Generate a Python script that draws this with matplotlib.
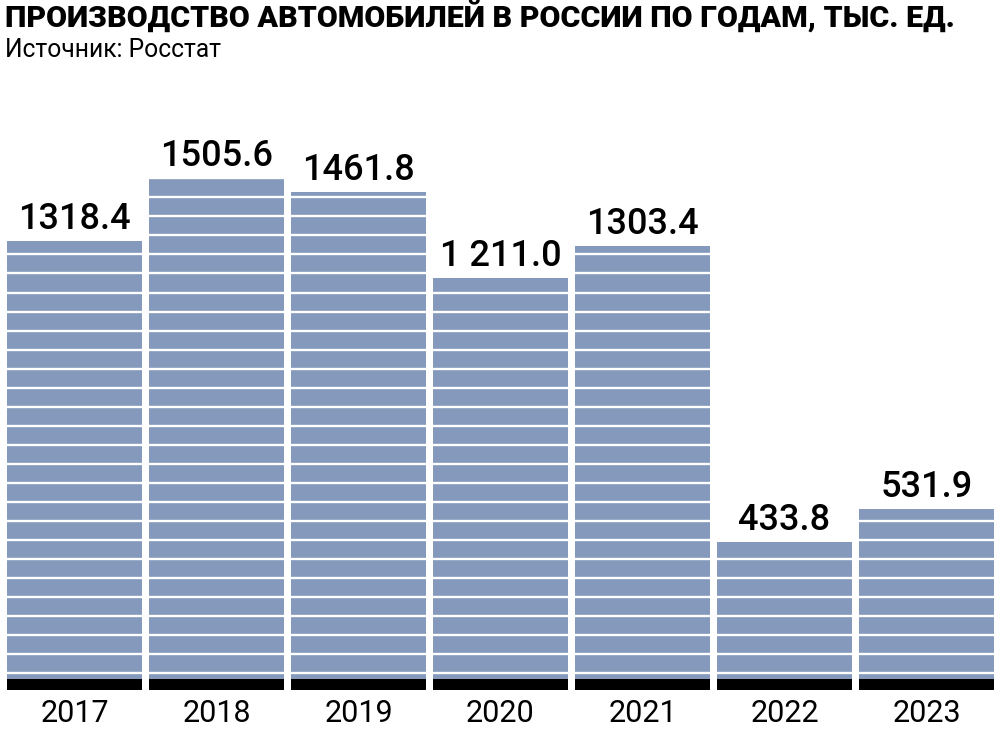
import matplotlib
matplotlib.use("Agg")
import matplotlib.pyplot as plt
from matplotlib.transforms import blended_transform_factory

years = ["2017", "2018", "2019", "2020", "2021", "2022", "2023"]
values = [1318.4, 1505.6, 1461.8, 1211.0, 1303.4, 433.8, 531.9]
value_labels = ["1318.4", "1505.6", "1461.8", "1 211.0", "1303.4", "433.8", "531.9"]

title = "ПРОИЗВОДСТВО АВТОМОБИЛЕЙ В РОССИИ ПО ГОДАМ, ТЫС. ЕД."
subtitle = "Источник: Росстат"

FONT = ["Roboto", "DejaVu Sans"]
BAR_COLOR = "#8499bc"
H = 729

fig = plt.figure(figsize=(10, 7.29), dpi=100)
ax = fig.add_axes([3.5 / 1000, 39 / H, 994 / 1000, 544.8 / H])

x = list(range(len(years)))
ax.bar(x, values, width=0.95, color=BAR_COLOR, zorder=1)
ax.bar(x, [32] * len(x), width=0.95, color="black", zorder=3)

# decorative white stripes
y = 49.0
while y < 1600:
    ax.axhline(y, color="white", lw=1.7, zorder=2)
    y += 55.92

for xi, v, lab in zip(x, values, value_labels):
    ax.annotate(lab, (xi, v), xytext=(0, 8.5), textcoords="offset points",
                ha="center", va="baseline", fontsize=26, fontweight="medium",
                family=FONT, color="black", zorder=5)

year_tr = blended_transform_factory(ax.transData, fig.transFigure)
for xi, yr in zip(x, years):
    ax.text(xi, 1 - 722 / H, yr, transform=year_tr, ha="center",
            va="baseline", fontsize=22, family=FONT, color="black")

ax.set_xlim(-0.5, 6.5)
ax.set_ylim(0, 1600)
ax.set_xticks([])
ax.set_yticks([])
for s in ax.spines.values():
    s.set_visible(False)

fig.text(5 / 1000, 1 - 27 / H, title, ha="left", va="baseline", fontsize=21.9,
         fontweight="heavy", family=FONT)
fig.text(5 / 1000, 1 - 57 / H, subtitle, ha="left", va="baseline", fontsize=17.7,
         family=FONT)

fig.savefig("out.png", dpi=100)
